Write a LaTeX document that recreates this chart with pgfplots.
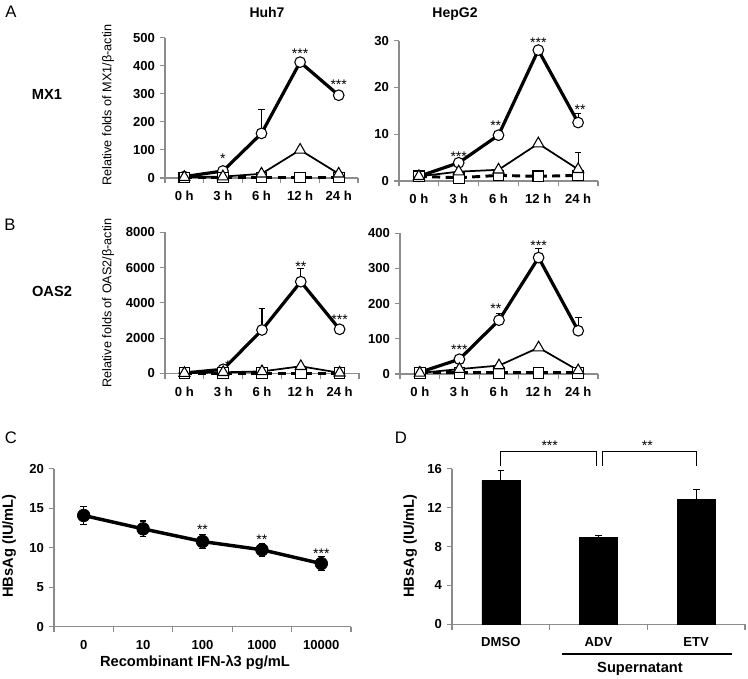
\documentclass[border=0pt]{standalone}
\usepackage{fontspec}
\setmainfont{Liberation Sans}
\usepackage{pgfplots}
\pgfplotsset{compat=1.18}

\definecolor{axgray}{RGB}{140,140,140}
\newcommand\tl{\fontsize{9.8}{10}\selectfont\bfseries}

\tikzset{st/.style={font=\fontsize{10.5}{10.5}\selectfont, anchor=base, yshift=-6.1pt, inner sep=0pt}}

\pgfplotsset{
  panel/.style={
    scale only axis, anchor=south west,
    axis x line*=bottom, axis y line*=left,
    axis line style={draw=axgray, line width=0.9pt},
    every tick/.style={draw=axgray, line width=0.8pt},
    tick align=outside, major tick length=4pt, minor tick length=4pt,
    ticklabel style={font=\tl},
    xticklabel style={yshift=-2.5pt},
    /pgf/number format/assume math mode=true,
    /pgf/number format/1000 sep={},
    scaled y ticks=false,
    ymin=0, clip=false,
  },
  catax/.style={
    xmin=-0.5, xmax=#1+0.5, xtick={0,...,#1},
    minor xtick={-0.5,0.5,...,#1.5},
    major x tick style={draw=none},
  },
  circ/.style={black, line width=2.4pt, mark=*, mark size=4pt,
    mark options={fill=white, line width=0.8pt, solid}},
  tri/.style={black, line width=1.3pt, mark=triangle*, mark size=4.8pt,
    mark options={fill=white, line width=0.8pt, solid}},
  sq/.style={black, line width=2.2pt, dash pattern=on 6pt off 4pt, mark=square*, mark size=4pt,
    mark options={fill=white, line width=0.8pt, solid}},
  ebar/.style={error bars/.cd, y dir=#1, y explicit,
    error bar style={line width=0.8pt, solid, draw=black},
    error mark options={rotate=90, mark size=2.5pt, line width=0.8pt, draw=black}},
}

\begin{document}
\begin{tikzpicture}
\path[use as bounding box] (0,0) rectangle (561pt,-508.5pt);

% ---- A: MX1, Huh7
\begin{axis}[panel, catax=4, xticklabels={0 h,3 h,6 h,12 h,24 h},
  at={(123.75pt,-133.5pt)}, width=144.75pt, height=105.2pt,
  ymax=500, ytick={0,100,...,500}]
\addplot[draw=none, ebar=plus] coordinates {(2,159) +- (0,86)};
\addplot[circ] coordinates {(0,5) (1,25) (2,159) (3,413) (4,295)};
\addplot[sq] coordinates {(0,2) (1,2) (2,2) (3,2) (4,2)};
\addplot[tri] coordinates {(0,3) (1,5) (2,15) (3,100) (4,15)};
\node[st] at (axis cs:1,82) {*};
\node[st] at (axis cs:3,456) {***};
\node[st] at (axis cs:4,343) {***};
\end{axis}

% ---- A: MX1, HepG2
\begin{axis}[panel, catax=4, xticklabels={0 h,3 h,6 h,12 h,24 h},
  at={(299.25pt,-135.75pt)}, width=149.25pt, height=105.2pt,
  ymax=30, ytick={0,10,20,30}]
\addplot[draw=none, ebar=plus] coordinates {(4,12.5) +- (0,2.0) (4,2.5) +- (0,3.5)};
\addplot[circ] coordinates {(0,1) (1,3.9) (2,9.8) (3,28) (4,12.5)};
\addplot[sq] coordinates {(0,1) (1,0.7) (2,1.2) (3,1.0) (4,1.2)};
\addplot[tri] coordinates {(0,1) (1,2.0) (2,2.4) (3,8.0) (4,2.5)};
\node[st] at (axis cs:1,5.9) {***};
\node[st] at (axis cs:1.93,12.5) {**};
\node[st] at (axis cs:3,30.3) {***};
\node[st] at (axis cs:4.05,16.0) {**};
\end{axis}

% ---- B: OAS2, Huh7
\begin{axis}[panel, catax=4, xticklabels={0 h,3 h,6 h,12 h,24 h},
  at={(123.75pt,-280pt)}, width=145.5pt, height=105.75pt,
  ymax=8000, ytick={0,2000,...,8000}]
\addplot[draw=none, ebar=plus] coordinates {(2,2460) +- (0,1230) (3,5200) +- (0,760)};
\addplot[circ] coordinates {(0,20) (1,230) (2,2460) (3,5200) (4,2500)};
\addplot[sq] coordinates {(0,10) (1,10) (2,10) (3,10) (4,10)};
\addplot[tri] coordinates {(0,10) (1,60) (2,110) (3,400) (4,30)};
\node[st] at (axis cs:1.12,600) {*};
\node[st] at (axis cs:3,6241) {**};
\node[st] at (axis cs:4,3213) {***};
\end{axis}

% ---- B: OAS2, HepG2
\begin{axis}[panel, catax=4, xticklabels={0 h,3 h,6 h,12 h,24 h},
  at={(300pt,-280.5pt)}, width=148.5pt, height=105.5pt,
  ymax=400, ytick={0,100,...,400}]
\addplot[draw=none, ebar=plus] coordinates {(2,153) +- (0,19) (3,331) +- (0,26) (4,123) +- (0,38)};
\addplot[circ] coordinates {(0,5) (1,42) (2,153) (3,331) (4,123)};
\addplot[sq] coordinates {(0,3) (1,3) (2,3) (3,3) (4,3)};
\addplot[tri] coordinates {(0,3) (1,14) (2,24) (3,75) (4,10)};
\node[st] at (axis cs:1,77.7) {***};
\node[st] at (axis cs:1.92,196) {**};
\node[st] at (axis cs:3,373) {***};
\end{axis}

% ---- C
\begin{axis}[panel, catax=4, xticklabels={0,10,100,1000,10000},
  at={(40.5pt,-470pt)}, width=222.75pt, height=118.3pt,
  ymax=20, ytick={0,5,...,20}]
\addplot[black, line width=2.6pt, mark=*, mark size=4.75pt, mark options={solid, fill=black, line width=0.5pt},
  ebar=both] coordinates {
  (0,14.1) +- (0,1.1)
  (1,12.4) +- (0,1.0)
  (2,10.8) +- (0,0.9)
  (3,9.75) +- (0,0.85)
  (4,8.0) +- (0,0.9)};
\node[st] at (axis cs:2,12.7) {**};
\node[st] at (axis cs:3,11.4) {**};
\node[st] at (axis cs:4,9.7) {***};
\end{axis}

% ---- D
\begin{axis}[panel, catax=2, xticklabels={DMSO,ADV,ETV},
  at={(339pt,-468.2pt)}, width=219.75pt, height=116.5pt,
  ymax=16, ytick={0,4,...,16}, ybar, bar width=28.5pt]
\addplot[fill=black, draw=black, ebar=plus] coordinates {
  (0,14.8) +- (0,1.05)
  (1,8.93) +- (0,0.2)
  (2,12.89) +- (0,1.0)};
\draw[line width=0.8pt] (axis cs:0,16.34) -- (axis cs:0,17.78) -- (axis cs:0.98,17.78) -- (axis cs:0.98,16.34);
\draw[line width=0.8pt] (axis cs:1.04,16.34) -- (axis cs:1.04,17.78) -- (axis cs:2,17.78) -- (axis cs:2,16.34);
\node[st] at (axis cs:0.5,18.7) {***};
\node[st] at (axis cs:1.5,18.7) {**};
\end{axis}

% ---- panel letters and labels (pixel grid of the original)
\begin{scope}[x=0.75pt, y=-0.75pt]
\node[font=\fontsize{12.5}{12.5}\selectfont] at (11,12) {A};
\node[font=\fontsize{12.5}{12.5}\selectfont] at (10,225) {B};
\node[font=\fontsize{12.5}{12.5}\selectfont] at (11,438) {C};
\node[font=\fontsize{12.5}{12.5}\selectfont] at (401,438) {D};
\node[font=\fontsize{10.5}{10.5}\selectfont\bfseries] at (267,12) {Huh7};
\node[font=\fontsize{10.5}{10.5}\selectfont\bfseries] at (455,14) {HepG2};
\node[font=\fontsize{11}{11}\selectfont\bfseries] at (47,94) {MX1};
\node[font=\fontsize{11}{11}\selectfont\bfseries] at (52,291) {OAS2};
\node[rotate=90, font=\fontsize{9.5}{9.5}\selectfont] at (108,105) {Relative folds of MX1/β-actin};
\node[rotate=90, font=\fontsize{9.5}{9.5}\selectfont] at (108,303) {Relative folds of OAS2/β-actin};
\node[rotate=90, font=\fontsize{11}{11}\selectfont\bfseries] at (9,546) {HBsAg (IU/mL)};
\node[rotate=90, font=\fontsize{11}{11}\selectfont\bfseries] at (410,546) {HBsAg (IU/mL)};
\node[font=\fontsize{11}{11}\selectfont\bfseries] at (195,663) {Recombinant IFN-λ3 pg/mL};
\draw[line width=0.8pt] (562,654) -- (732,654);
\node[font=\fontsize{11}{11}\selectfont\bfseries] at (640,669) {Supernatant};
\end{scope}
\end{tikzpicture}
\end{document}
